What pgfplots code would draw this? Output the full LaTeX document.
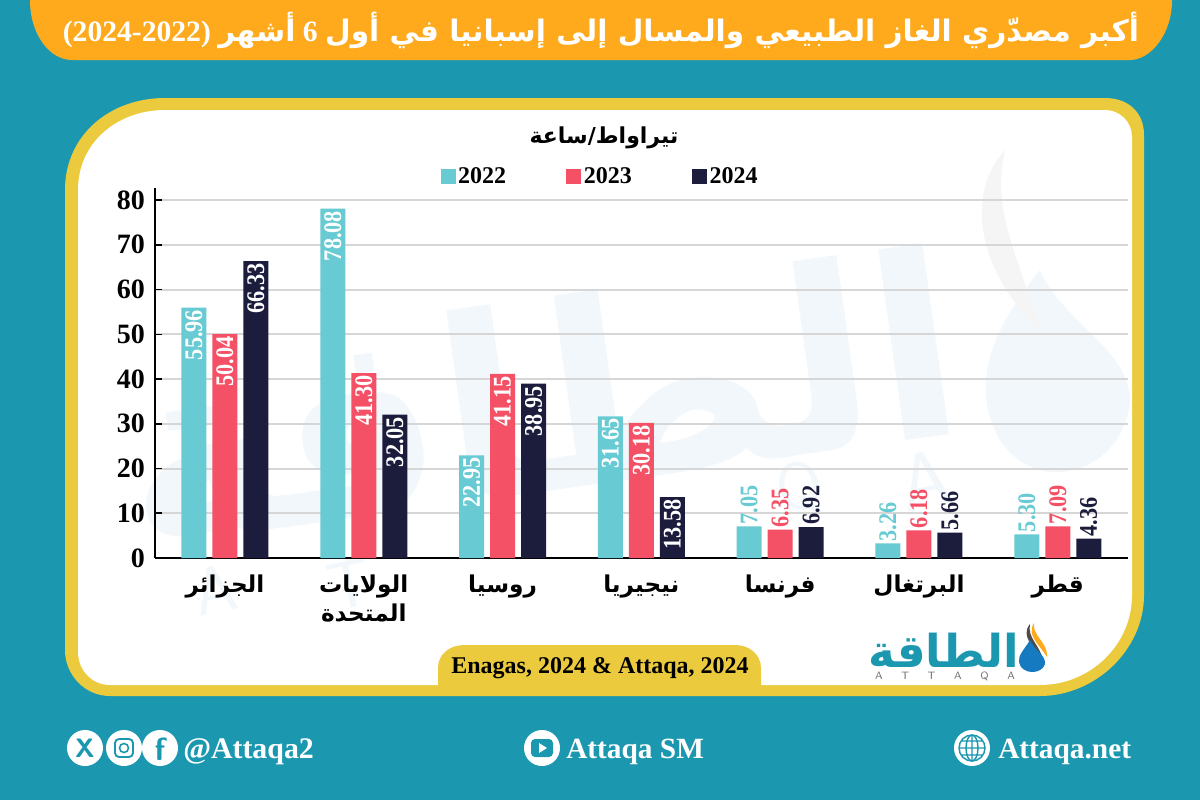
\documentclass[border=0pt]{standalone}
\usepackage{fontspec}
\usepackage{pgfplots}
\pgfplotsset{compat=1.18}
\usepackage{pgfplotstable}
\setmainfont{Liberation Serif}
\newfontfamily\ar[Script=Arabic]{DejaVu Sans}
\newfontfamily\barfont[FakeStretch=0.88]{Liberation Serif}
\TeXXeTstate=1
\definecolor{teal0}{HTML}{1B98B0}
\definecolor{orange0}{HTML}{FEAA1C}
\definecolor{yellow0}{HTML}{EBCB3D}
\definecolor{c22}{HTML}{68CBD3}
\definecolor{c23}{HTML}{F45166}
\definecolor{c24}{HTML}{1C1C3C}
\definecolor{wm}{HTML}{F1F7FA}
\pgfplotstableread{
x y
0 55.96
1 78.08
2 22.95
3 31.65
}\biga
\pgfplotstableread{
x y
4 7.05
5 3.26
6 5.30
}\smalla
\pgfplotstableread{
x y
0 50.04
1 41.30
2 41.15
3 30.18
}\bigb
\pgfplotstableread{
x y
4 6.35
5 6.18
6 7.09
}\smallb
\pgfplotstableread{
x y
0 66.33
1 32.05
2 38.95
3 13.58
}\bigc
\pgfplotstableread{
x y
4 6.92
5 5.66
6 4.36
}\smallc
\pgfplotsset{
 inlab/.style={nodes near coords, every node near coord/.append style={xshift=#1,yshift=-1.5pt,rotate=90,anchor=east,white,inner sep=0pt,font=\barfont\bfseries\fontsize{19}{19}\selectfont}},
 outlab/.style 2 args={nodes near coords, every node near coord/.append style={xshift=#1,yshift=1.5pt,rotate=90,anchor=west,text=#2,inner sep=0pt,font=\barfont\bfseries\fontsize{19}{19}\selectfont}},
 b/.style 2 args={ybar,bar width=18.75pt,bar shift=#1,fill=#2,draw=none},
}
\begin{document}
\begin{tikzpicture}
\useasboundingbox (0,0) rectangle (900pt,-600pt);
\begin{scope}[x=0.75pt,y=-0.75pt]
\fill[teal0] (0,0) rectangle (1200,800);
% banner
\fill[orange0] (30,0) -- (1172,0) .. controls (1172,35) and (1150,60) .. (1130,60) -- (72,60) .. controls (50,60) and (30,35) .. (30,0) -- cycle;
\node[white,inner sep=0pt,anchor=center] at (601,30) {\bfseries\fontsize{22.2}{22.2}\selectfont (2024-2022) {\ar\beginR أشهر\endR} 6 {\ar\beginR أكبر مصدّري الغاز الطبيعي والمسال إلى إسبانيا في أول\endR}};
% panel
\fill[yellow0] (65,190) .. controls (65,135) and (110,98) .. (165,98) -- (1105,98) .. controls (1128,98) and (1144,112) .. (1144,135) -- (1144,595) .. controls (1144,650) and (1095,696) .. (1040,696) -- (110,696) .. controls (85,696) and (65,675) .. (65,650) -- cycle;
\fill[white] (78,190) .. controls (78,142) and (118,110) .. (165,110) -- (1105,110) .. controls (1120,110) and (1132,122) .. (1132,137) -- (1132,595) .. controls (1132,645) and (1090,685) .. (1040,685) -- (110,685) .. controls (92,685) and (78,670) .. (78,652) -- cycle;
% watermark
\node[wm,rotate=8,inner sep=0pt] at (540,395) {\ar\bfseries\fontsize{190}{190}\selectfont\beginR الطاقة\endR};
\fill[wm] (1040,270) .. controls (1000,320) and (965,380) .. (1000,440) .. controls (1040,500) and (1125,470) .. (1130,400) .. controls (1130,350) and (1060,320) .. (1040,270) -- cycle;
\fill[wm!70!black!12] (1005,150) .. controls (960,200) and (985,280) .. (1040,330) .. controls (1020,260) and (990,210) .. (1005,150) -- cycle;
\node[wm,rotate=12,inner sep=0pt] at (925,480) {\sffamily\fontsize{60}{60}\selectfont A};
\node[wm,rotate=12,inner sep=0pt] at (800,490) {\sffamily\fontsize{50}{50}\selectfont Q};
\node[wm,rotate=12,inner sep=0pt] at (215,590) {\sffamily\fontsize{50}{50}\selectfont A};
\node[wm,rotate=12,inner sep=0pt] at (350,585) {\sffamily\fontsize{50}{50}\selectfont T};
% source tab
\fill[yellow0] (438,686) -- (438,668) .. controls (438,654) and (450,645) .. (464,645) -- (735,645) .. controls (750,645) and (761,655) .. (761,668) -- (761,686) -- cycle;
\node[inner sep=0pt,black] at (600,668) {\bfseries\fontsize{18}{18}\selectfont Enagas, 2024 \& Attaqa, 2024};
% logo
\node[teal0,inner sep=0pt] at (944,650) {\ar\bfseries\fontsize{34}{34}\selectfont\beginR الطاقة\endR};
\node[black!55,inner sep=0pt] at (945,676) {\sffamily\fontsize{8}{8}\selectfont A\hspace{14pt}T\hspace{14pt}T\hspace{14pt}A\hspace{14pt}Q\hspace{14pt}A};
\fill[orange0] (1034,623) .. controls (1026,636) and (1040,645) .. (1047,657) .. controls (1048,642) and (1032,636) .. (1034,623) -- cycle;
\fill[black!70] (1030,624) .. controls (1020,636) and (1034,648) .. (1043,660) .. controls (1040,645) and (1027,638) .. (1030,624) -- cycle;
\fill[teal0!80!blue] (1030,640) .. controls (1024,650) and (1018,655) .. (1019,662) .. controls (1021,675) and (1042,675) .. (1045,664) .. controls (1046,655) and (1034,650) .. (1030,640) -- cycle;
% footer icons
\foreach \c in {85,124,160,542,972} \fill[white] (\c,748) circle (18);
\node[teal0,inner sep=0pt] at (85,748) {\sffamily\bfseries\fontsize{20}{20}\selectfont X};
\draw[teal0,line width=1.4pt,rounded corners=3pt] (115,739) rectangle (133,757);
\draw[teal0,line width=1.2pt] (124,748) circle (4.5);
\node[teal0,inner sep=0pt] at (160,749) {\sffamily\bfseries\fontsize{24}{24}\selectfont f};
\fill[teal0,rounded corners=3pt] (531,739) rectangle (553,757);
\fill[white] (539,743) -- (547,748) -- (539,753) -- cycle;
\draw[teal0,line width=1.1pt] (972,748) circle (13) (959,748) -- (985,748) (961,741) -- (983,741) (961,755) -- (983,755) (972,735) -- (972,761);
\draw[teal0,line width=1.1pt] (972,748) ellipse (6 and 13);
\node[white,inner sep=0pt,anchor=west] at (183,752) {\bfseries\fontsize{22.4}{22.4}\selectfont @Attaqa2};
\node[white,inner sep=0pt,anchor=west] at (566,752) {\bfseries\fontsize{22}{22}\selectfont Attaqa SM};
\node[white,inner sep=0pt,anchor=west] at (998,752) {\bfseries\fontsize{22}{22}\selectfont Attaqa.net};
% unit
\node[black,inner sep=0pt] at (604,138) {\ar\bfseries\fontsize{16.5}{16.5}\selectfont\beginR تيراواط/ساعة\endR};
\end{scope}
\begin{axis}[
 at={(116.25pt,-418.5pt)},anchor=south west,
 scale only axis,width=729.75pt,height=277.5pt,
 xmin=-0.504,xmax=6.506,ymin=0,ymax=82.7,
 enlargelimits=false,
 axis x line*=bottom,axis y line*=left,
 axis line style={black,line width=1.9pt,-},
 ytick={0,10,...,80},xtick={0,1,2,3,4,5,6},
 xticklabels={
  {\ar\bfseries\beginR الجزائر\endR},
  {\ar\bfseries\beginR الولايات\endR\\\ar\bfseries\beginR المتحدة\endR},
  {\ar\bfseries\beginR روسيا\endR},
  {\ar\bfseries\beginR نيجيريا\endR},
  {\ar\bfseries\beginR فرنسا\endR},
  {\ar\bfseries\beginR البرتغال\endR},
  {\ar\bfseries\beginR قطر\endR}},
 xticklabel style={align=center,font=\fontsize{17.4}{22}\selectfont,text=black,yshift=-9pt},
 yticklabel style={font=\bfseries\fontsize{21}{21}\selectfont,text=black,/pgf/number format/assume math mode=true,xshift=-4pt},
 major x tick style={draw=none},
 major tick length=5.5pt,
 y tick style={black,line width=1.2pt},
 ymajorgrids,grid style={color=black!16,line width=1.5pt},
 /pgf/number format/fixed,/pgf/number format/fixed zerofill,/pgf/number format/precision=2,/pgf/number format/assume math mode=true,
 yticklabel={\pgfmathprintnumber[fixed,precision=0,fixed zerofill=false,assume math mode=true]{\tick}},
 legend columns=3,
 legend style={at={(rel axis cs:0.2935,1.030)},anchor=west,draw=none,fill=none,inner sep=0pt,outer sep=0pt,font=\bfseries\fontsize{18}{18}\selectfont,/tikz/every even column/.append style={column sep=43pt}},
 legend image code/.code={\fill[#1] (0pt,-5.6pt) rectangle (11.25pt,5.6pt);},
]
\addplot[b={-23.25pt}{c22},inlab=-23.25pt] table[x=x,y=y]{\biga};\addlegendentry{2022}
\addplot[b={0pt}{c23},inlab=0pt] table[x=x,y=y]{\bigb};\addlegendentry{2023}
\addplot[b={23.25pt}{c24},inlab=23.25pt] table[x=x,y=y]{\bigc};\addlegendentry{2024}
\addplot[forget plot,b={-23.25pt}{c22},outlab={-23.25pt}{c22}] table[x=x,y=y]{\smalla};
\addplot[forget plot,b={0pt}{c23},outlab={0pt}{c23}] table[x=x,y=y]{\smallb};
\addplot[forget plot,b={23.25pt}{c24},outlab={23.25pt}{c24}] table[x=x,y=y]{\smallc};
\end{axis}
\end{tikzpicture}
\end{document}
